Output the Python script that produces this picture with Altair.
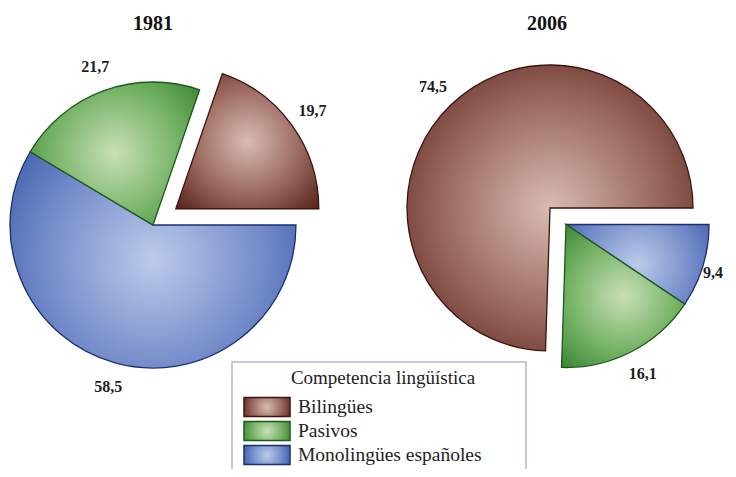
import altair as alt
import pandas as pd

# ---- data ----
years = ["1981", "2006"]
categories = ["Bilingües", "Monolingües españoles", "Pasivos"]   # clockwise order of slices
values_1981 = [19.7, 58.5, 21.7]
values_2006 = [74.5, 9.4, 16.1]
labels_1981 = ["19,7", "58,5", "21,7"]
labels_2006 = ["74,5", "9,4", "16,1"]
legend_title = "Competencia lingüística"
legend_order = ["Bilingües", "Pasivos", "Monolingües españoles"]

rows = []
for y, vals, labs in [("1981", values_1981, labels_1981), ("2006", values_2006, labels_2006)]:
    for i, (c, v, l) in enumerate(zip(categories, vals, labs)):
        rows.append({"year": y, "category": c, "value": v, "label": l, "order": i})
df = pd.DataFrame(rows)

# ---- styles ----
SERIF = "Liberation Serif"
shades = {
    "Bilingües": ("#d8bcb2", "#96645a", "#4e1a14", "#3e120d"),
    "Pasivos": ("#c8e0b6", "#72b062", "#2c7a2a", "#1d5a1b"),
    "Monolingües españoles": ("#bccbea", "#7189c8", "#2a4b9e", "#1b2f70"),
}


def grad(cat, r2=0.72):
    light, mid, dark, _ = shades[cat]
    return alt.RadialGradient(
        gradient="radial",
        x1=0.5, y1=0.5, r1=0, x2=0.5, y2=0.5, r2=r2,
        stops=[alt.GradientStop(offset=0, color=light),
               alt.GradientStop(offset=0.55, color=mid),
               alt.GradientStop(offset=1, color=dark)],
    )


TAU = 6.283185307179586

base = (
    alt.Chart(df)
    .transform_joinaggregate(total="sum(value)", groupby=["year"])
    .transform_calculate(bval="datum.category == 'Bilingües' ? datum.value : 0")
    .transform_joinaggregate(bsum="sum(bval)", groupby=["year"])
    .transform_window(cum="sum(value)", groupby=["year"], sort=[alt.SortField("order")])
    .transform_calculate(
        a0="(datum.cum - datum.value - datum.bsum) / datum.total + 0.25",
        a1="(datum.cum - datum.bsum) / datum.total + 0.25",
        mid="2 * PI * ((datum.cum - datum.value / 2 - datum.bsum) / datum.total + 0.25)",
        # the exploded group: Bilingües in 1981, the other two slices together in 2006
        isx="datum.year == '1981' ? (datum.category == 'Bilingües') : (datum.category != 'Bilingües')",
        gmid="datum.year == '1981' ? 2 * PI * (0.25 - datum.bsum / (2 * datum.total)) : 2 * PI * (0.25 + (datum.total - datum.bsum) / (2 * datum.total))",
        ex="datum.isx ? (datum.year == '1981' ? 28 : 23) : 0",
        cx="datum.year == '1981' ? 145 : 542",
        cy="datum.year == '1981' ? 217 : 200",
        px="datum.cx + datum.ex * sin(datum.gmid)",
        py="datum.cy - datum.ex * cos(datum.gmid)",
        lx="min(datum.px + 168 * sin(datum.mid), 705)",
        ly="datum.py - 168 * cos(datum.mid)",
    )
)

theta_enc = alt.Theta("a0:Q", stack=None, scale=alt.Scale(domain=[0, 1], range=[0, TAU]))

layers = []
for c in categories:
    layers.append(
        base.transform_filter(alt.datum.category == c)
        .mark_arc(radius=143, fill=grad(c), stroke=shades[c][3], strokeWidth=1.3)
        .encode(
            theta=theta_enc,
            theta2="a1:Q",
            x=alt.X("px:Q", scale=None, axis=None),
            y=alt.Y("py:Q", scale=None, axis=None),
        )
    )

labels = base.mark_text(font=SERIF, fontSize=16, fontWeight="bold", color="#1e1e1e").encode(
    x=alt.X("lx:Q", scale=None, axis=None),
    y=alt.Y("ly:Q", scale=None, axis=None),
    text="label:N",
)

titles = (
    alt.Chart(pd.DataFrame({"year": years}))
    .transform_calculate(tx="datum.year == '1981' ? 145 : 539", ty="16")
    .mark_text(font=SERIF, fontSize=20, fontWeight="bold", color="#111")
    .encode(
        x=alt.X("tx:Q", scale=None, axis=None),
        y=alt.Y("ty:Q", scale=None, axis=None),
        text="year:N",
    )
)

# ---- legend (drawn manually to allow gradient swatches) ----
leg_df = pd.DataFrame({"category": legend_order, "idx": list(range(len(legend_order)))})
box = (
    alt.Chart(pd.DataFrame({"t": [legend_title]}))
    .mark_rect(fill="white", stroke="#b8b8d2", strokeWidth=1.5)
    .encode(x=alt.value(224), x2=alt.value(518), y=alt.value(354), y2=alt.value(475))
)
box_title = (
    alt.Chart(pd.DataFrame({"t": [legend_title]}))
    .mark_text(font=SERIF, fontSize=19, color="#1e1e1e")
    .encode(x=alt.value(375), y=alt.value(370), text="t:N")
)
leg_base = alt.Chart(leg_df).transform_calculate(
    sy="399 + datum.idx * 24", y0="datum.sy - 9.5", y1="datum.sy + 9.5"
)
swatches = []
for c in legend_order:
    swatches.append(
        leg_base.transform_filter(alt.datum.category == c)
        .mark_rect(fill=grad(c, 0.62), stroke=shades[c][3], strokeWidth=1.5)
        .encode(
            x=alt.value(236), x2=alt.value(282),
            y=alt.Y("y0:Q", scale=None, axis=None),
            y2="y1:Q",
        )
    )
leg_text = leg_base.mark_text(font=SERIF, fontSize=19.5, align="left", color="#1e1e1e").encode(
    x=alt.value(290),
    y=alt.Y("sy:Q", scale=None, axis=None),
    text="category:N",
)

chart = (
    alt.layer(*layers, labels, titles, box, box_title, *swatches, leg_text)
    .properties(width=720, height=461, padding=0, background="white",
                autosize=alt.AutoSizeParams(type="none"))
    .configure_view(stroke=None)
)

chart.save("out.html", embed_options={"renderer": "svg", "actions": False})
